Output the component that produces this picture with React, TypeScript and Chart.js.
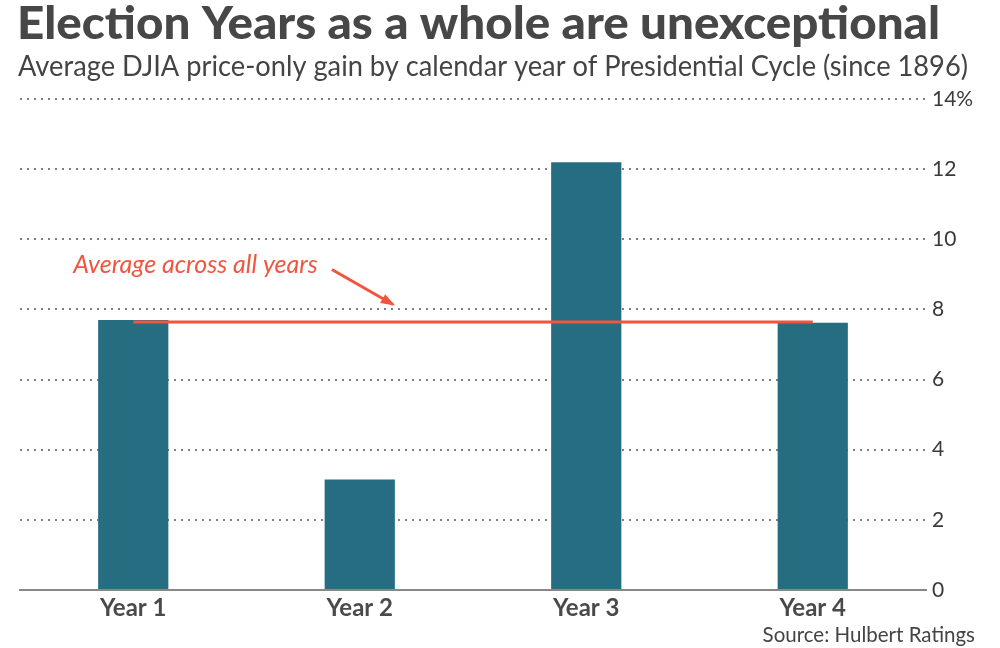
import React, { useEffect, useRef } from "react";
import { Chart, registerables } from "chart.js";

Chart.register(...registerables);

const categories = ["Year 1", "Year 2", "Year 3", "Year 4"];
const gains = [7.7, 3.15, 12.2, 7.62];
const averageValue = [7.64, 7.64, 7.64, 7.64];
const yTickLabels = ["0", "2", "4", "6", "8", "10", "12", "14%"];

const titleText = "Election Years as a whole are unexceptional";
const subtitleText = "Average DJIA price-only gain by calendar year of Presidential Cycle (since 1896)";
const sourceText = "Source: Hulbert Ratings";
const annotationText = "Average across all years";

const FONT = "Lato, 'Noto Sans', sans-serif";
const RED = "#F2553F";
const TEAL = "#266D82";

function fillFitted(ctx: CanvasRenderingContext2D, text: string, x: number, y: number, width: number) {
  const w = ctx.measureText(text).width;
  ctx.save();
  ctx.translate(x, y);
  ctx.scale(width / w, 1);
  ctx.fillText(text, 0, 0);
  ctx.restore();
}

const textPlugin = {
  id: "texts",
  afterDraw(chart: any) {
    const { ctx } = chart;
    const xs = chart.scales.x;
    const ys = chart.scales.y;
    ctx.save();
    ctx.textBaseline = "alphabetic";
    ctx.textAlign = "left";
    ctx.fillStyle = "#474747";
    ctx.font = `900 45px ${FONT}`;
    fillFitted(ctx, titleText, 17, 39, 923);
    ctx.fillStyle = "#444";
    ctx.font = `400 28px ${FONT}`;
    fillFitted(ctx, subtitleText, 18, 76, 950);
    ctx.font = `400 20.5px ${FONT}`;
    ctx.textAlign = "right";
    ctx.fillText(sourceText, 975, 642);

    // annotation
    const tx = xs.getPixelForValue(-0.265);
    const ty = ys.getPixelForValue(9.03);
    ctx.textAlign = "left";
    ctx.fillStyle = RED;
    ctx.font = `italic 400 25px ${FONT}`;
    ctx.fillText(annotationText, tx, ty, 250);

    const ax0 = xs.getPixelForValue(0.877);
    const ay0 = ys.getPixelForValue(9.14);
    const ax1 = xs.getPixelForValue(1.147);
    const ay1 = ys.getPixelForValue(8.14);
    ctx.strokeStyle = RED;
    ctx.lineWidth = 3;
    ctx.beginPath();
    ctx.moveTo(ax0, ay0);
    ctx.lineTo(ax1, ay1);
    ctx.stroke();
    const ang = Math.atan2(ay1 - ay0, ax1 - ax0);
    const hl = 13;
    ctx.fillStyle = RED;
    ctx.beginPath();
    ctx.moveTo(ax1 + 2, ay1 + 1);
    ctx.lineTo(ax1 - hl * Math.cos(ang - 0.4), ay1 - hl * Math.sin(ang - 0.4));
    ctx.lineTo(ax1 - hl * Math.cos(ang + 0.4), ay1 - hl * Math.sin(ang + 0.4));
    ctx.closePath();
    ctx.fill();
    ctx.restore();
  },
};

export default function App() {
  const ref = useRef<HTMLCanvasElement | null>(null);
  useEffect(() => {
    if (!ref.current) return;
    const chart = new Chart(ref.current, {
      type: "bar",
      data: {
        labels: categories,
        datasets: [
          {
            type: "line",
            data: averageValue,
            borderColor: RED,
            borderWidth: 3,
            pointRadius: 0,
            fill: false,
            order: 0,
          } as any,
          {
            type: "bar",
            data: gains,
            backgroundColor: TEAL,
            barPercentage: 0.31,
            categoryPercentage: 1,
            order: 1,
          },
        ],
      },
      options: {
        responsive: true,
        maintainAspectRatio: false,
        animation: false,
        layout: { padding: { top: 99, left: 20, right: 0, bottom: 0 } },
        plugins: {
          legend: { display: false },
          tooltip: { enabled: false },
          title: { display: false },
        },
        scales: {
          x: {
            grid: { display: false, drawTicks: false },
            border: { display: true, color: "#888", width: 2 },
            ticks: {
              color: "#4a4a4a",
              font: { family: FONT, size: 24, weight: "bold" },
              padding: 4,
            },
            afterFit: (s: any) => {
              s.height = 58;
            },
          },
          y: {
            position: "right",
            min: 0,
            max: 14,
            grid: {
              color: "#808080",
              lineWidth: 2,
              drawTicks: false,
            },
            border: { display: false, dash: [2, 5] },
            ticks: {
              stepSize: 2,
              color: "#3a3a3a",
              padding: 6,
              font: { family: FONT, size: 21 },
              callback: (_v: any, i: number) => yTickLabels[i],
            },
            afterFit: (s: any) => {
              s.width = 74;
            },
          },
        },
      },
      plugins: [textPlugin],
    });
    return () => chart.destroy();
  }, []);
  return (
    <div style={{ position: "absolute", left: 0, top: 0, width: 1000, height: 648, background: "#fff" }}>
      <canvas ref={ref} />
    </div>
  );
}
